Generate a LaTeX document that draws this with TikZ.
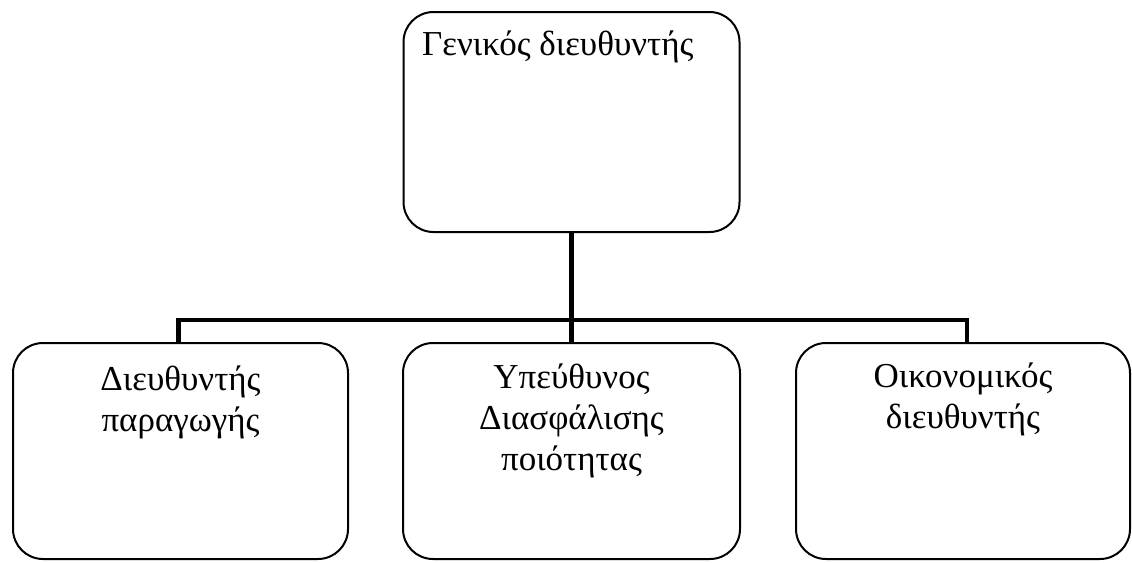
\documentclass[tikz,border=0pt]{standalone}
\usepackage{fontspec}
\setmainfont{Liberation Serif}
\begin{document}
\begin{tikzpicture}[x=1pt,y=-1pt,
  box/.style={draw,line width=2pt,rounded corners=30pt,inner sep=0pt},
  lbl/.style={font=\fontsize{35}{41}\selectfont,align=center,inner sep=0pt},
  conn/.style={line width=4.5pt}]
\useasboundingbox (0,0) rectangle (1132,562);
% boxes
\node[box,minimum width=336pt,minimum height=220pt] (top) at (571.5,122) {};
\node[box,minimum width=335pt,minimum height=216pt] (L) at (180.5,451) {};
\node[box,minimum width=337pt,minimum height=216pt] (M) at (571.5,451) {};
\node[box,minimum width=334pt,minimum height=216pt] (R) at (963,451) {};
% labels (base = baseline of last line)
\node[lbl,anchor=base west] (tt) at (422,55) {Γενικός διευθυντής};
\node[lbl,anchor=base] (lt) at (L.north |- 0,431) {Διευθυντής\\παραγωγής};
\node[lbl,anchor=base] (mt) at (M.north |- 0,470) {Υπεύθυνος\\Διασφάλισης\\ποιότητας};
\node[lbl,anchor=base] (rt) at (R.north |- 0,428) {Οικονομικός\\διευθυντής};
% connectors
\coordinate (bus) at (571.5,320);
\draw[conn] (top.south) -- (M.north);
\draw[conn] ([xshift=-2pt]L.north) |- (bus) -| ([xshift=4pt]R.north);
\end{tikzpicture}
\end{document}
